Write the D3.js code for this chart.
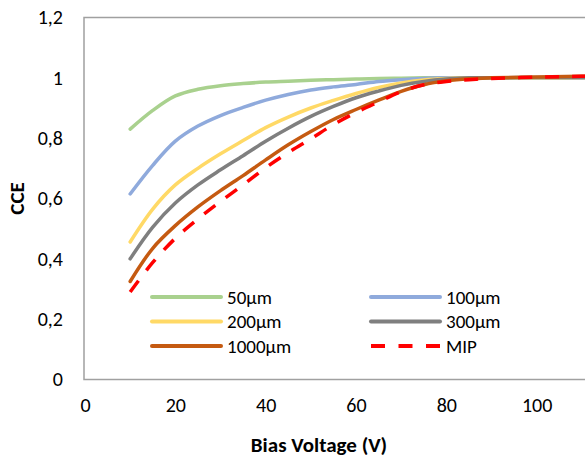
<!DOCTYPE html>
<meta charset="utf-8">
<style>
    body { margin: 0; background: #fff; }
    text { font-family: Carlito, Calibri, Lato, sans-serif; fill: #000; }
    .tick text { font-size: 20px; }
    .title { font-size: 21px; font-weight: bold; }
    .legend text { font-size: 19px; }
</style>
<svg width="585" height="457"></svg>
<script src="https://cdnjs.cloudflare.com/ajax/libs/d3/7.8.5/d3.min.js"></script>
<script>

    // bias voltage (V) at which each curve was sampled
    var voltages = [10, 15, 20, 25, 30, 35, 40, 45, 50, 55, 60, 65, 70, 75, 80, 85, 90, 100, 110, 120];

    var cce50   = [0.830, 0.892, 0.940, 0.962, 0.974, 0.981, 0.986, 0.989, 0.992, 0.994, 0.996, 0.998, 0.999, 1.000, 1.000, 1.000, 1.000, 1.000, 1.000, 1.000];
    var cce100  = [0.615, 0.710, 0.790, 0.840, 0.875, 0.902, 0.926, 0.945, 0.960, 0.970, 0.978, 0.988, 0.994, 0.998, 1.000, 1.000, 1.000, 1.000, 1.000, 1.000];
    var cce200  = [0.456, 0.565, 0.645, 0.700, 0.748, 0.792, 0.835, 0.870, 0.900, 0.925, 0.948, 0.968, 0.983, 0.993, 0.998, 1.000, 1.000, 1.000, 1.001, 1.001];
    var cce300  = [0.400, 0.505, 0.585, 0.645, 0.695, 0.742, 0.790, 0.833, 0.872, 0.905, 0.934, 0.956, 0.975, 0.988, 0.996, 1.000, 1.000, 1.001, 1.001, 1.001];
    var cce1000 = [0.325, 0.435, 0.510, 0.572, 0.626, 0.676, 0.728, 0.778, 0.822, 0.862, 0.895, 0.926, 0.955, 0.977, 0.990, 0.997, 1.000, 1.003, 1.005, 1.005];
    var cceMIP  = [0.290, 0.388, 0.468, 0.532, 0.590, 0.645, 0.702, 0.752, 0.798, 0.845, 0.885, 0.920, 0.954, 0.977, 0.988, 0.994, 0.998, 1.002, 1.005, 1.005];

    var seriesNames = ["50µm", "100µm", "200µm", "300µm", "1000µm", "MIP"];
    var seriesValues = [cce50, cce100, cce200, cce300, cce1000, cceMIP];
    var seriesColors = ["#A9D18E", "#8FAADC", "#FFD966", "#7F7F7F", "#C55A11", "#FF0000"];

    var xTicks = [0, 20, 40, 60, 80, 100];
    var yTicks = [0, 0.2, 0.4, 0.6, 0.8, 1, 1.2];

    var svg = d3.select("svg");

    var x = d3.scaleLinear().domain([0, 120]).range([85, 627]);
    var y = d3.scaleLinear().domain([0, 1.2]).range([379.5, 17.5]);

    var fmt = function (d) { return String(+d.toFixed(1)).replace(".", ","); };

    // plot area border
    svg.append("rect")
        .attr("x", x(0) - 1)
        .attr("y", y(1.2))
        .attr("width", x(120) - x(0) + 1)
        .attr("height", y(0) - y(1.2))
        .attr("fill", "none")
        .attr("stroke", "#A0A0A0")
        .attr("stroke-width", 1.5);

    var yAxis = svg.append("g")
        .attr("transform", "translate(" + (x(0) - 1) + ",0)")
        .call(d3.axisLeft(y).tickValues(yTicks).tickFormat(fmt).tickSize(0).tickPadding(21));
    yAxis.select(".domain").remove();

    var xAxis = svg.append("g")
        .attr("transform", "translate(0," + y(0) + ")")
        .call(d3.axisBottom(x).tickValues(xTicks).tickFormat(d3.format("d")).tickSize(0).tickPadding(18));
    xAxis.select(".domain").remove();
    svg.selectAll(".tick text").attr("font-family", null).attr("font-size", null);

    svg.append("text")
        .attr("class", "title")
        .attr("text-anchor", "middle")
        .attr("transform", "translate(24," + y(0.6) + ") rotate(-90)")
        .text("CCE");

    svg.append("text")
        .attr("class", "title")
        .attr("text-anchor", "middle")
        .attr("x", 319)
        .attr("y", 452)
        .text("Bias Voltage (V)");

    var line = d3.line()
        .x(function (d, i) { return x(voltages[i]); })
        .y(function (d) { return y(d); })
        .curve(d3.curveCatmullRom);

    svg.append("g")
        .selectAll("path")
        .data(seriesValues)
        .enter().append("path")
        .attr("d", line)
        .attr("fill", "none")
        .attr("stroke", function (d, i) { return seriesColors[i]; })
        .attr("stroke-width", 3.5)
        .attr("stroke-linecap", function (d, i) { return i == 5 ? "butt" : "round"; })
        .attr("stroke-dasharray", function (d, i) { return i == 5 ? "14,13" : null; });

    // legend, two columns
    var legend = svg.append("g").attr("class", "legend");
    var item = legend.selectAll("g")
        .data(seriesNames)
        .enter().append("g")
        .attr("transform", function (d, i) {
            return "translate(" + (i % 2 ? 371 : 152) + "," + (297 + Math.floor(i / 2) * 24.5) + ")";
        });
    item.append("line")
        .attr("x1", 0).attr("x2", 69)
        .attr("stroke", function (d, i) { return seriesColors[i]; })
        .attr("stroke-width", 4)
        .attr("stroke-linecap", function (d, i) { return i == 5 ? "butt" : "round"; })
        .attr("stroke-dasharray", function (d, i) { return i == 5 ? "14,13.5" : null; });
    item.append("text")
        .attr("x", 75)
        .attr("dy", "0.35em")
        .text(function (d) { return d; });

</script>
